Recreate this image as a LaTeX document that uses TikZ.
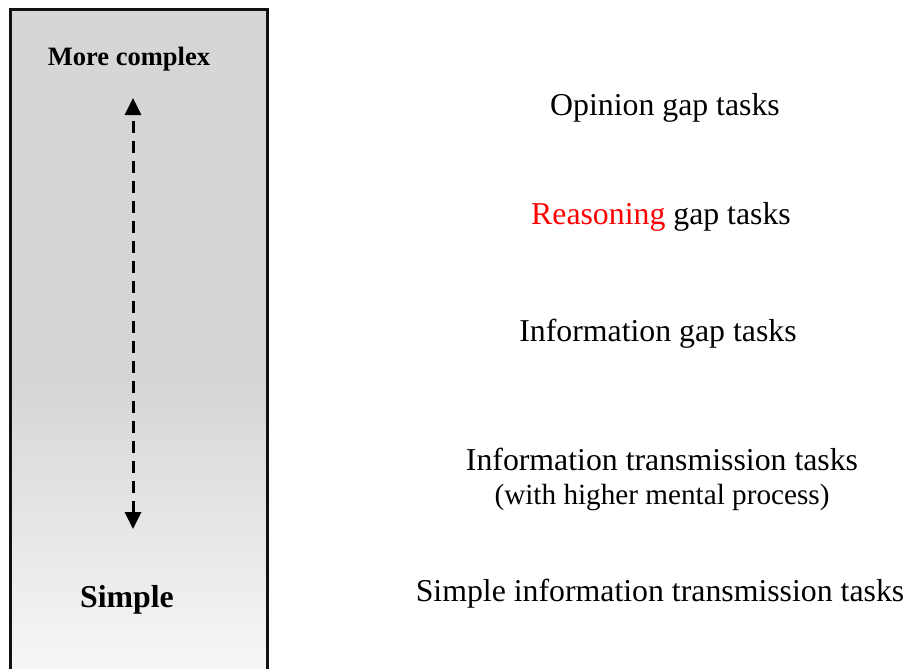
\documentclass[tikz,border=0pt]{standalone}
\usepackage{fontspec}
\setmainfont{Liberation Serif}
\usetikzlibrary{arrows.meta}
\definecolor{panetop}{HTML}{D6D6D6}
\definecolor{panebottom}{HTML}{F7F7F7}
\definecolor{paneedge}{HTML}{111111}
\tikzset{
  tasklabel/.style={anchor=base, inner sep=0pt, font=\fontsize{31.8}{38}\selectfont},
  tasknote/.style={anchor=base, inner sep=0pt, font=\fontsize{29.2}{35}\selectfont},
  levellabel/.style={anchor=base, inner sep=0pt, font=\bfseries},
  scalearrow/.style={line width=3pt, dash pattern=on 12pt off 8pt,
    {Triangle[width=16pt,length=17pt]}-{Triangle[width=16pt,length=17pt]}}
}
\begin{document}
\begin{tikzpicture}[x=1pt,y=-1pt]
  \useasboundingbox (0,0) rectangle (908,669);
  % grey column, flat at the top and fading out towards the bottom
  \fill[panetop] (10.5,9.5) rectangle (267,385);
  \shade[top color=panetop, bottom color=panebottom] (10.5,384.5) rectangle (267,672);
  \draw[paneedge, line width=3pt] (10.5,672) -- (10.5,9.5) -- (267,9.5) -- (267,672);

  % ends of the complexity scale
  \node[levellabel, font=\bfseries\fontsize{26.5}{32}\selectfont] (complex) at (129,66) {More complex};
  \node[levellabel, font=\bfseries\fontsize{31.8}{38}\selectfont] (simple) at (127,607) {Simple};
  \coordinate (uptip) at (133,98);
  \coordinate (downtip) at (133,529);
  \draw[scalearrow] (downtip) -- (uptip);

  % task types, from most complex to simplest
  \node[tasklabel] (opinion) at (665,115) {Opinion gap tasks};
  \node[tasklabel] (reasoning) at (661,224) {\textcolor{red}{Reasoning} gap tasks};
  \node[tasklabel] (infogap) at (658,341) {Information gap tasks};
  \node[tasklabel] (transmit) at (662,470) {Information transmission tasks};
  \node[tasknote] (transmitnote) at (662,504) {(with higher mental process)};
  \node[tasklabel] (simpletransmit) at (660,601) {Simple information transmission tasks};
\end{tikzpicture}
\end{document}
